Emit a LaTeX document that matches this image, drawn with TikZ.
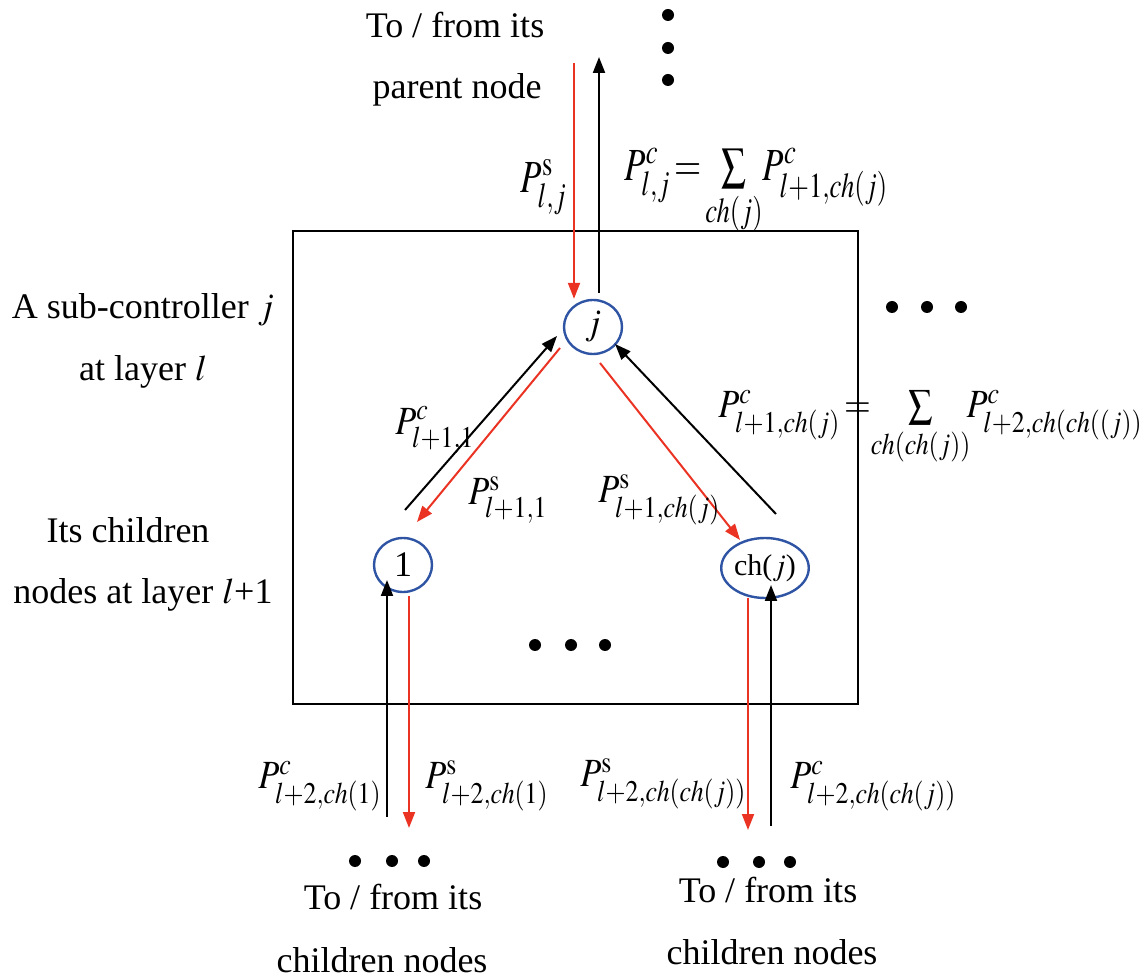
\documentclass[tikz,border=0pt]{standalone}
\usepackage{mathptmx}
\usepackage{graphicx}
\usepackage[no-math]{fontspec}
\setmainfont{Liberation Serif}
\DeclareMathSizes{20}{20}{15}{11}
\DeclareMathSizes{23}{23}{17.5}{13}
\usetikzlibrary{arrows.meta, shapes.geometric}
\definecolor{ctrlblue}{RGB}{46,84,163}
\definecolor{sigred}{RGB}{234,51,35}
\newcommand{\mth}[1]{\scalebox{0.86}[1]{$#1$}}
\newcommand{\mthb}[1]{\scalebox{0.76}[1]{$#1$}}
\tikzset{
  ctrl/.style={ellipse, draw=ctrlblue, line width=1.2pt, inner sep=0pt},
  up/.style={-{Triangle[length=8pt,width=6pt]}, line width=1pt, black},
  down/.style={-{Triangle[length=8pt,width=6pt]}, line width=1pt, sigred},
  lbl/.style={font=\fontsize{18}{22}\selectfont, inner sep=0pt},
  mlbl/.style={font=\fontsize{20}{24}\selectfont, inner sep=0pt},
  mbig/.style={font=\fontsize{23}{27}\selectfont, inner sep=0pt},
  dot/.style={circle, fill=black, inner sep=0pt, minimum size=6pt}
}
\begin{document}
\begin{tikzpicture}[x=0.5pt, y=-0.5pt]
  \useasboundingbox (0,0) rectangle (1147,978);
  % === layer box ===
  \draw[line width=0.6pt] (293,231) rectangle (858,704);

  % sub-controller and its children
  \node[ctrl, minimum width=29pt, minimum height=27pt, lbl] (j) at (593,327) {$j$};
  \node[ctrl, minimum width=29pt, minimum height=27pt, lbl] (one) at (403,565) {1};
  \node[ctrl, minimum width=41pt, minimum height=30pt, font=\fontsize{15}{18}\selectfont] (chj) at (765,568) {ch($j$)};

  % dots
  \foreach \y in {15,48,80} \node[dot] at (668,\y) {};
  \foreach \x in {892,927,961} \node[dot] at (\x,307) {};
  \foreach \x in {535,571,605} \node[dot] at (\x,645) {};
  \foreach \x in {355,392,424} \node[dot] at (\x,861) {};
  \foreach \x in {723,759,790} \node[dot] at (\x,862) {};

  % === arrows to / from the parent ===
  \coordinate (pS) at (574,63);
  \coordinate (pC) at (599,57);
  \draw[down] (pS) -- (pS |- j.north);
  \draw[up] (pC |- j.north) ++(0,-6) -- (pC);

  % === arrows between j and its children ===
  \coordinate (aC) at (405,510);
  \coordinate (aS) at (417,522);
  \coordinate (bS) at (740,540);
  \coordinate (bC) at (776,514);
  \draw[up] (aC) -- (557,336);
  \draw[down] (560,348) -- (aS);
  \draw[down] (600,363) -- (bS);
  \draw[up] (bC) -- (615,344);

  % === arrows to / from the children's children ===
  \coordinate (cC) at (387,817);
  \coordinate (cS) at (409,828);
  \coordinate (dS) at (748,830);
  \coordinate (dC) at (771,826);
  \draw[up] (cC) -- (387,580);
  \draw[down] (409,596) -- (cS);
  \draw[down] (748,598) -- (dS);
  \draw[up] (dC) -- (771,585);

  % labels
  \node[lbl] (topt) at (455,25) {To / from its};
  \node[lbl] (topb) at (457,90) {parent node};
  \node[mbig, anchor=east] (ps) at (567,187) {\mthb{P^{\mathrm{s}}_{l,j}}};
  \node[mbig, anchor=west] (pc) at (624,192) {\mthb{P^{c}_{l,j}\!=\!\sum\limits_{ch(j)}\! P^{c}_{l+1,ch(j)}}};
  \node[lbl] (subt) at (143,310) {A sub-controller $j$};
  \node[lbl] (subb) at (143,372) {at layer $l$};
  \node[mlbl, anchor=west] (p1c) at (395,430) {\mth{P^{c}_{l+1,1}}};
  \node[mlbl, anchor=west] (p1s) at (468,500) {\mth{P^{\mathrm{s}}_{l+1,1}}};
  \node[mlbl, anchor=west] (pchs) at (598,500) {\mth{P^{\mathrm{s}}_{l+1,ch(j)}}};
  \node[mlbl, anchor=west] (pchc) at (718,428) {\mth{P^{c}_{l+1,ch(j)}\!=\!\!\sum\limits_{ch(ch(j))}\!\! P^{c}_{l+2,ch(ch((j))}}};
  \node[lbl] (chdt) at (128,530) {Its children};
  \node[lbl] (chdb) at (143,595) {nodes at layer $l$+1};
  \node[mlbl, anchor=west] (q1c) at (258,786) {\mth{P^{c}_{l+2,ch(1)}}};
  \node[mlbl, anchor=west] (q1s) at (425,786) {\mth{P^{\mathrm{s}}_{l+2,ch(1)}}};
  \node[mlbl, anchor=west] (q2s) at (580,784) {\mth{P^{\mathrm{s}}_{l+2,ch(ch(j))}}};
  \node[mlbl, anchor=west] (q2c) at (790,786) {\mth{P^{c}_{l+2,ch(ch(j))}}};
  \node[lbl] (blt) at (393,897) {To / from its};
  \node[lbl] (blb) at (382,960) {children nodes};
  \node[lbl] (brt) at (768,890) {To / from its};
  \node[lbl] (brb) at (772,952) {children nodes};
\end{tikzpicture}
\end{document}
